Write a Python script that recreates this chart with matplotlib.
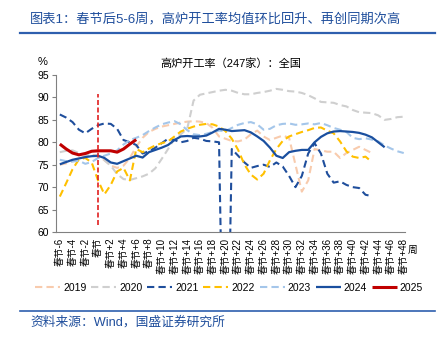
import matplotlib
matplotlib.use("Agg")
import matplotlib.pyplot as plt
from matplotlib.lines import Line2D

plt.rcParams['font.family'] = ['Liberation Sans', 'Noto Sans CJK SC']
plt.rcParams['axes.unicode_minus'] = False

# weeks relative to Spring Festival
weeks = list(range(-6, 49))
tick_weeks = list(range(-6, 49, 2))
tick_labels = ['春节' if w == 0 else ('春节%d' % w if w < 0 else '春节+%d' % w) for w in tick_weeks]

y2019 = [75.0, 75.3, 75.8, 76.4, 76.8, 77.2, 77.0, 76.0, 74.8, 74.3,
         74.8, 76.5, 79.0, 81.0, 82.3, 83.0, 83.5, 83.8, 84.1, 84.4,
         84.6, 84.7, 84.6, 84.3, 83.2, 81.3, 80.8, 80.3, 80.2, 80.6,
         81.8, 82.6, 81.3, 80.5, 81.0, 81.5, 81.0, 75.0, 69.0, 71.5,
         78.5, 78.2, 77.9, 77.9, 76.5, 77.6, 78.3, 79.0, 78.3, 77.6]
y2020 = [77.8, 78.1, 78.2, 77.6, 77.2, 77.0, 76.8, 76.0, 74.8, 72.9,
         71.8, 71.6, 72.0, 72.4, 73.0, 74.2, 76.3, 78.5, 80.8, 81.8,
         83.0, 89.3, 90.6, 90.9, 91.2, 91.5, 91.7, 91.5, 91.0, 90.7,
         90.7, 91.0, 91.2, 91.5, 91.9, 91.7, 91.4, 91.3, 91.0, 90.5,
         89.8, 89.0, 88.9, 88.8, 88.3, 88.0, 87.2, 86.7, 86.6, 86.5,
         86.0, 85.0, 85.2, 85.6, 85.7]
y2021 = [86.2, 85.5, 84.5, 82.8, 82.0, 83.0, 83.8, 84.2, 84.1, 83.0,
         80.5, 80.0, 79.4, 77.5, 78.0, 78.8, 79.8, 80.8, 80.5, 80.0,
         80.3, 81.0, 80.8, 80.3, 80.2, 80.0, 0.0, 78.5, 77.0, 75.5,
         74.3, 74.7, 75.0, 74.5, 75.5, 74.6, 72.5, 70.0, 72.5, 77.5,
         79.8, 77.5, 73.0, 71.0, 71.3, 70.5, 70.0, 69.8, 68.3, 68.0]
y2022 = [67.9, 70.9, 74.0, 76.2, 76.5, 75.5, 71.5, 68.4, 70.5, 73.5,
         74.3, 71.5, 78.5, 77.8, 78.6, 79.3, 79.8, 80.2, 81.3, 82.4,
         83.0, 83.5, 83.9, 84.1, 84.0, 83.5, 82.5, 80.8, 78.3, 75.0,
         72.8, 71.7, 73.0, 76.0, 78.5, 80.3, 81.3, 81.8, 82.3, 82.7,
         83.2, 83.3, 82.6, 82.0, 80.2, 78.0, 76.8, 76.5, 76.8, 75.6]
y2023 = [76.1, 75.8, 75.7, 75.9, 75.2, 75.6, 76.5, 77.0, 77.5, 78.2,
         79.5, 80.5, 81.0, 81.6, 82.5, 83.3, 84.0, 84.4, 84.7, 84.0,
         82.7, 81.8, 81.6, 81.9, 82.3, 82.6, 82.5, 83.2, 83.9, 84.3,
         84.5, 84.0, 82.8, 83.0, 83.8, 84.1, 84.2, 83.9, 84.0, 84.2,
         84.0, 84.3, 83.8, 83.2, 82.8, 82.3, 81.0, 80.7, 80.9, 80.6,
         80.2, 79.3, 78.6, 78.0, 77.6]
y2024 = [75.1, 75.6, 76.1, 76.4, 76.7, 76.9, 77.0, 76.5, 75.5, 75.2,
         75.8, 76.4, 77.0, 76.6, 77.8, 78.3, 78.8, 79.4, 80.5, 81.3,
         81.4, 81.3, 81.3, 81.5, 82.2, 83.0, 82.8, 82.5, 82.6, 82.7,
         82.2, 81.3, 80.3, 78.8, 77.0, 76.5, 77.8, 78.1, 78.3, 78.3,
         80.0, 81.2, 82.0, 82.4, 82.5, 82.4, 82.3, 82.1, 81.7, 81.1,
         80.0, 78.9]
y2025 = [79.6, 78.5, 77.6, 77.2, 77.5, 78.0, 78.1, 78.1, 78.1, 77.8,
         78.5, 79.6, 80.6]

series = [
    ('2019', y2019, '#f8cbad', (3.5, 2), 1.5),
    ('2020', y2020, '#cfcfcf', (3.5, 2), 1.5),
    ('2021', y2021, '#1f4e9c', (3.5, 2), 1.5),
    ('2022', y2022, '#ffc000', (3.5, 2), 1.5),
    ('2023', y2023, '#a4c6ea', (3.5, 2), 1.5),
    ('2024', y2024, '#1a4f9f', None, 1.6),
    ('2025', y2025, '#c00000', None, 2.2),
]

fig = plt.figure(figsize=(4.41, 3.38), dpi=100)
ax = fig.add_axes([56 / 441, 1 - 232 / 338, (405 - 56) / 441, (232 - 75) / 338])

for name, vals, color, dash, lw in series:
    line, = ax.plot(weeks[:len(vals)], vals, color=color, lw=lw, label=name,
                    solid_capstyle='butt')
    if dash:
        line.set_dashes(dash)

ax.plot([0, 0], [61.5, 90.8], color='#e02020', lw=1.2, dashes=(3, 1.5))

ax.set_xlim(-6.6, 48.2)
ax.set_ylim(60, 95)
ax.set_yticks(range(60, 96, 5))
ax.set_xticks(tick_weeks)
ax.set_xticklabels(tick_labels, rotation=90, fontsize=7)
ax.tick_params(axis='x', length=0, pad=4)
ax.tick_params(axis='y', labelsize=7.5, length=3, color='#808080', pad=2)
for s in ['top', 'right']:
    ax.spines[s].set_visible(False)
for s in ['left', 'bottom']:
    ax.spines[s].set_color('#808080')
    ax.spines[s].set_linewidth(0.8)

ax.set_title('高炉开工率（247家）：全国', fontsize=8, pad=6)
fig.text(38 / 441, 1 - 62 / 338, '%', fontsize=8, ha='left', va='center')
fig.text(413 / 441, 1 - 250 / 338, '周', fontsize=7, ha='center', va='center')

ax.legend(loc='center', bbox_to_anchor=(229 / 441, 1 - 288 / 338),
          bbox_transform=fig.transFigure, ncol=7, frameon=False, fontsize=7.5,
          handlelength=2.4, handletextpad=0.3, columnspacing=0.45)

blue = '#1f4e9c'
fig.text(30 / 441, 1 - 19 / 338, '图表1：春节后5-6周，高炉开工率均值环比回升、再创同期次高',
         fontsize=9.5, color=blue, ha='left', va='center')
fig.add_artist(Line2D([20 / 441, 435 / 441], [1 - 33 / 338, 1 - 33 / 338],
                      color='#2e5fae', lw=1.6, transform=fig.transFigure))
fig.add_artist(Line2D([20 / 441, 435 / 441], [1 - 311 / 338, 1 - 311 / 338],
                      color='#2e5fae', lw=1.2, transform=fig.transFigure))
fig.text(30 / 441, 1 - 322 / 338, '资料来源：Wind，国盛证券研究所',
         fontsize=9.2, color=blue, ha='left', va='center')

fig.savefig('out.png', dpi=100)
